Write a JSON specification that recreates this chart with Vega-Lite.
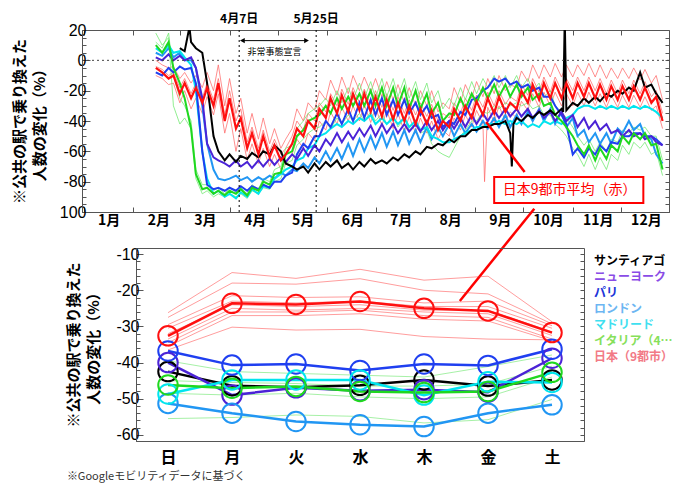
{
"$schema":"https://vega.github.io/schema/vega-lite/v6.json",
"padding":{"left":12,"top":12,"right":0,"bottom":0},
"background":"white",
"config":{"view":{"stroke":"#555","strokeWidth":1},"axis":{"domainColor":"#555","tickColor":"#555","grid":false},"font":"Noto Sans CJK JP"},
"datasets":{
"ann":[{"d":"2020-04-07","label":"4月7日"},{"d":"2020-05-25","label":"5月25日"}],
"ts":[
{"d":"2020-02-15","ny":2,"pa":-8,"lo":5,"ma":8,"it":10,"it2":18,"it3":12,"jp":-5,"jp2":0,"jp3":-4,"jp4":-10},
{"d":"2020-02-19","ny":0,"pa":-10,"lo":3,"ma":5,"it":5,"it2":10,"it3":8,"jp":-8,"jp2":-3,"jp3":-6,"jp4":-12},
{"d":"2020-02-23","ny":4,"pa":-5,"lo":8,"ma":10,"it":12,"it2":15,"it3":18,"jp":-12,"jp2":-5,"jp3":-10,"jp4":-16},
{"d":"2020-02-26","ny":0,"pa":-8,"lo":2,"ma":5,"it":-5,"it2":-30,"it3":-10,"jp":-10,"jp2":-4,"jp3":-8,"jp4":-15},
{"d":"2020-03-01","sa":8,"ny":3,"pa":-4,"lo":5,"ma":6,"it":-15,"it2":-42,"it3":-25,"jp":-22,"jp2":-12,"jp3":-18,"jp4":-28},
{"d":"2020-03-04","sa":6,"ny":0,"pa":-6,"lo":0,"ma":2,"it":-25,"it2":-38,"it3":-30,"jp":-15,"jp2":-8,"jp3":-12,"jp4":-20},
{"d":"2020-03-07","sa":22},
{"d":"2020-03-08","sa":12,"ny":2,"pa":-5,"lo":0,"ma":-3,"it":-45,"it2":-45,"it3":-40,"jp":-25,"jp2":-15,"jp3":-22,"jp4":-32},
{"d":"2020-03-11","sa":8,"ny":-5,"pa":-15,"lo":-5,"ma":-20,"it":-75,"it2":-78,"it3":-72,"jp":-18,"jp2":-10,"jp3":-15,"jp4":-25},
{"d":"2020-03-15","sa":5,"ny":-25,"pa":-60,"lo":-30,"ma":-60,"it":-85,"it2":-88,"it3":-82,"jp":-28,"jp2":-18,"jp3":-25,"jp4":-35},
{"d":"2020-03-18","sa":-15,"ny":-55,"pa":-82,"lo":-55,"ma":-78,"it":-84,"it2":-86,"it3":-82,"jp":-18,"jp2":-8,"jp3":-15,"jp4":-24},
{"d":"2020-03-22","sa":-50,"ny":-64,"pa":-85,"lo":-72,"ma":-88,"it":-88,"it2":-90,"it3":-86,"jp":-30,"jp2":-20,"jp3":-26,"jp4":-36},
{"d":"2020-03-25","sa":-60,"ny":-66,"pa":-84,"lo":-78,"ma":-86,"it":-86,"it2":-88,"it3":-84,"jp":-15,"jp2":-3,"jp3":-12,"jp4":-22},
{"d":"2020-03-29","sa":-66,"ny":-68,"pa":-86,"lo":-79,"ma":-90,"it":-89,"it2":-90,"it3":-88,"jp":-40,"jp2":-30,"jp3":-36,"jp4":-48},
{"d":"2020-04-01","sa":-62,"ny":-70,"pa":-84,"lo":-78,"ma":-88,"it":-86,"it2":-88,"it3":-84,"jp":-25,"jp2":-12,"jp3":-20,"jp4":-35},
{"d":"2020-04-05","sa":-67,"ny":-66,"pa":-86,"lo":-76,"ma":-91,"it":-88,"it2":-90,"it3":-87,"jp":-45,"jp2":-35,"jp3":-40,"jp4":-60},
{"d":"2020-04-08","sa":-63,"ny":-70,"pa":-83,"lo":-79,"ma":-87,"it":-85,"it2":-88,"it3":-84,"jp":-38,"jp2":-25,"jp3":-32,"jp4":-45},
{"d":"2020-04-12","sa":-65,"ny":-67,"pa":-86,"lo":-77,"ma":-90,"it":-89,"it2":-91,"it3":-88,"jp":-58,"jp2":-48,"jp3":-54,"jp4":-66},
{"d":"2020-04-15","sa":-61,"ny":-71,"pa":-83,"lo":-80,"ma":-85,"it":-84,"it2":-86,"it3":-82,"jp":-48,"jp2":-35,"jp3":-44,"jp4":-55},
{"d":"2020-04-19","sa":-64,"ny":-66,"pa":-85,"lo":-77,"ma":-88,"it":-86,"it2":-88,"it3":-85,"jp":-62,"jp2":-52,"jp3":-58,"jp4":-68},
{"d":"2020-04-22","sa":-60,"ny":-70,"pa":-82,"lo":-79,"ma":-83,"it":-80,"it2":-84,"it3":-78,"jp":-50,"jp2":-38,"jp3":-46,"jp4":-58},
{"d":"2020-04-26","sa":-62,"ny":-65,"pa":-84,"lo":-76,"ma":-84,"it":-82,"it2":-85,"it3":-80,"jp":-64,"jp2":-55,"jp3":-60,"jp4":-70},
{"d":"2020-04-29","sa":-56,"ny":-69,"pa":-80,"lo":-78,"ma":-78,"it":-75,"it2":-80,"it3":-72,"jp":-56,"jp2":-45,"jp3":-52,"jp4":-62},
{"d":"2020-05-03","sa":-60,"ny":-64,"pa":-80,"lo":-74,"ma":-75,"it":-74,"it2":-78,"it3":-70,"jp":-66,"jp2":-58,"jp3":-62,"jp4":-72},
{"d":"2020-05-06","sa":-68,"ny":-67,"pa":-76,"lo":-76,"ma":-72,"it":-62,"it2":-68,"it3":-58,"jp":-62,"jp2":-52,"jp3":-58,"jp4":-68},
{"d":"2020-05-10","sa":-70,"ny":-62,"pa":-74,"lo":-72,"ma":-70,"it":-60,"it2":-66,"it3":-56,"jp":-55,"jp2":-45,"jp3":-50,"jp4":-62},
{"d":"2020-05-13","sa":-72,"ny":-65,"pa":-62,"lo":-73,"ma":-66,"it":-50,"it2":-56,"it3":-45,"jp":-45,"jp2":-32,"jp3":-40,"jp4":-52},
{"d":"2020-05-17","sa":-70,"ny":-58,"pa":-55,"lo":-68,"ma":-64,"it":-46,"it2":-52,"it3":-40,"jp":-50,"jp2":-40,"jp3":-46,"jp4":-58},
{"d":"2020-05-20","sa":-74,"ny":-63,"pa":-58,"lo":-71,"ma":-58,"it":-40,"it2":-48,"it3":-35,"jp":-40,"jp2":-28,"jp3":-35,"jp4":-48},
{"d":"2020-05-24","sa":-68,"ny":-56,"pa":-50,"lo":-64,"ma":-56,"it":-38,"it2":-45,"it3":-32,"jp":-45,"jp2":-33,"jp3":-40,"jp4":-53},
{"d":"2020-05-27","sa":-72,"ny":-60,"pa":-50,"lo":-68,"ma":-50,"it":-36,"it2":-44,"it3":-30,"jp":-32,"jp2":-20,"jp3":-28,"jp4":-40},
{"d":"2020-05-31","sa":-67,"ny":-52,"pa":-40,"lo":-60,"ma":-48,"it":-30,"it2":-40,"it3":-25,"jp":-38,"jp2":-26,"jp3":-34,"jp4":-46},
{"d":"2020-06-03","sa":-70,"ny":-56,"pa":-44,"lo":-66,"ma":-45,"it":-35,"it2":-45,"it3":-30,"jp":-25,"jp2":-13,"jp3":-22,"jp4":-34},
{"d":"2020-06-07","sa":-66,"ny":-48,"pa":-35,"lo":-58,"ma":-42,"it":-25,"it2":-38,"it3":-20,"jp":-35,"jp2":-23,"jp3":-30,"jp4":-42},
{"d":"2020-06-10","sa":-71,"ny":-54,"pa":-42,"lo":-65,"ma":-44,"it":-32,"it2":-42,"it3":-28,"jp":-23,"jp2":-11,"jp3":-19,"jp4":-31},
{"d":"2020-06-14","sa":-68,"ny":-47,"pa":-32,"lo":-55,"ma":-40,"it":-24,"it2":-36,"it3":-18,"jp":-34,"jp2":-22,"jp3":-29,"jp4":-40},
{"d":"2020-06-17","sa":-72,"ny":-52,"pa":-40,"lo":-63,"ma":-42,"it":-30,"it2":-40,"it3":-26,"jp":-22,"jp2":-10,"jp3":-18,"jp4":-30},
{"d":"2020-06-21","sa":-67,"ny":-45,"pa":-28,"lo":-52,"ma":-38,"it":-22,"it2":-35,"it3":-15,"jp":-33,"jp2":-20,"jp3":-28,"jp4":-40},
{"d":"2020-06-24","sa":-70,"ny":-50,"pa":-38,"lo":-60,"ma":-40,"it":-30,"it2":-40,"it3":-25,"jp":-22,"jp2":-11,"jp3":-19,"jp4":-29},
{"d":"2020-06-28","sa":-65,"ny":-43,"pa":-26,"lo":-50,"ma":-36,"it":-20,"it2":-34,"it3":-14,"jp":-34,"jp2":-21,"jp3":-29,"jp4":-41},
{"d":"2020-07-01","sa":-68,"ny":-50,"pa":-36,"lo":-58,"ma":-42,"it":-30,"it2":-40,"it3":-25,"jp":-24,"jp2":-12,"jp3":-20,"jp4":-31},
{"d":"2020-07-05","sa":-66,"ny":-42,"pa":-25,"lo":-48,"ma":-38,"it":-18,"it2":-35,"it3":-12,"jp":-37,"jp2":-24,"jp3":-31,"jp4":-43},
{"d":"2020-07-08","sa":-68,"ny":-48,"pa":-36,"lo":-57,"ma":-42,"it":-30,"it2":-42,"it3":-24,"jp":-26,"jp2":-14,"jp3":-22,"jp4":-33},
{"d":"2020-07-12","sa":-64,"ny":-42,"pa":-26,"lo":-47,"ma":-38,"it":-18,"it2":-36,"it3":-12,"jp":-39,"jp2":-26,"jp3":-33,"jp4":-45},
{"d":"2020-07-15","sa":-66,"ny":-48,"pa":-36,"lo":-56,"ma":-42,"it":-30,"it2":-44,"it3":-24,"jp":-28,"jp2":-16,"jp3":-24,"jp4":-35},
{"d":"2020-07-19","sa":-62,"ny":-42,"pa":-26,"lo":-46,"ma":-38,"it":-18,"it2":-38,"it3":-12,"jp":-40,"jp2":-28,"jp3":-35,"jp4":-47},
{"d":"2020-07-22","sa":-64,"ny":-47,"pa":-35,"lo":-55,"ma":-44,"it":-32,"it2":-46,"it3":-25,"jp":-30,"jp2":-18,"jp3":-26,"jp4":-37},
{"d":"2020-07-26","sa":-60,"ny":-42,"pa":-28,"lo":-46,"ma":-40,"it":-20,"it2":-42,"it3":-14,"jp":-42,"jp2":-30,"jp3":-36,"jp4":-48},
{"d":"2020-07-29","sa":-62,"ny":-47,"pa":-36,"lo":-54,"ma":-46,"it":-32,"it2":-48,"it3":-26,"jp":-32,"jp2":-20,"jp3":-28,"jp4":-38},
{"d":"2020-08-02","sa":-57,"ny":-40,"pa":-30,"lo":-44,"ma":-44,"it":-22,"it2":-46,"it3":-15,"jp":-42,"jp2":-30,"jp3":-37,"jp4":-48},
{"d":"2020-08-05","sa":-58,"ny":-46,"pa":-38,"lo":-52,"ma":-50,"it":-35,"it2":-55,"it3":-28,"jp":-33,"jp2":-20,"jp3":-29,"jp4":-40},
{"d":"2020-08-09","sa":-55,"ny":-40,"pa":-36,"lo":-44,"ma":-52,"it":-28,"it2":-60,"it3":-20,"jp":-46,"jp2":-34,"jp3":-40,"jp4":-52},
{"d":"2020-08-12","sa":-56,"ny":-46,"pa":-44,"lo":-50,"ma":-54,"it":-40,"it2":-62,"it3":-32,"jp":-40,"jp2":-28,"jp3":-35,"jp4":-46},
{"d":"2020-08-16","sa":-52,"ny":-40,"pa":-40,"lo":-42,"ma":-54,"it":-35,"it2":-64,"it3":-25,"jp":-44,"jp2":-32,"jp3":-38,"jp4":-50},
{"d":"2020-08-19","sa":-54,"ny":-45,"pa":-42,"lo":-50,"ma":-52,"it":-36,"it2":-58,"it3":-30,"jp":-32,"jp2":-18,"jp3":-28,"jp4":-38},
{"d":"2020-08-23","sa":-50,"ny":-38,"pa":-34,"lo":-42,"ma":-50,"it":-25,"it2":-50,"it3":-18,"jp":-40,"jp2":-28,"jp3":-35,"jp4":-46},
{"d":"2020-08-26","sa":-50,"ny":-44,"pa":-36,"lo":-48,"ma":-48,"it":-32,"it2":-46,"it3":-26,"jp":-30,"jp2":-16,"jp3":-25,"jp4":-36},
{"d":"2020-08-30","sa":-46,"ny":-36,"pa":-26,"lo":-42,"ma":-46,"it":-22,"it2":-40,"it3":-14,"jp":-38,"jp2":-25,"jp3":-33,"jp4":-44},
{"d":"2020-09-02","sa":-46,"ny":-42,"pa":-25,"lo":-47,"ma":-44,"it":-28,"it2":-40,"it3":-22,"jp":-27,"jp2":-14,"jp3":-23,"jp4":-33},
{"d":"2020-09-06","sa":-44,"ny":-35,"pa":-20,"lo":-40,"ma":-44,"it":-18,"it2":-34,"it3":-12,"jp":-36,"jp2":-24,"jp3":-31,"jp4":-42},
{"d":"2020-09-07","jp4":-80},
{"d":"2020-09-09","sa":-44,"ny":-40,"pa":-18,"lo":-45,"ma":-42,"it":-25,"it2":-35,"it3":-18,"jp":-25,"jp2":-12,"jp3":-21,"jp4":-31},
{"d":"2020-09-13","sa":-42,"ny":-33,"pa":-12,"lo":-38,"ma":-42,"it":-16,"it2":-30,"it3":-10,"jp":-35,"jp2":-22,"jp3":-30,"jp4":-41},
{"d":"2020-09-16","sa":-42,"ny":-38,"pa":-14,"lo":-44,"ma":-40,"it":-24,"it2":-32,"it3":-18,"jp":-24,"jp2":-10,"jp3":-20,"jp4":-30},
{"d":"2020-09-20","sa":-40,"ny":-32,"pa":-12,"lo":-36,"ma":-42,"it":-16,"it2":-28,"it3":-10,"jp":-34,"jp2":-20,"jp3":-29,"jp4":-40},
{"d":"2020-09-23","sa":-48,"ny":-37,"pa":-16,"lo":-44,"ma":-40,"it":-24,"it2":-30,"it3":-18,"jp":-28,"jp2":-16,"jp3":-24,"jp4":-34},
{"d":"2020-09-24","sa":-70},
{"d":"2020-09-25","sa":-42},
{"d":"2020-09-27","sa":-38,"ny":-32,"pa":-14,"lo":-36,"ma":-42,"it":-16,"it2":-28,"it3":-10,"jp":-32,"jp2":-18,"jp3":-27,"jp4":-38},
{"d":"2020-09-30","sa":-40,"ny":-37,"pa":-18,"lo":-42,"ma":-40,"it":-24,"it2":-30,"it3":-18,"jp":-20,"jp2":-7,"jp3":-16,"jp4":-27},
{"d":"2020-10-04","sa":-36,"ny":-32,"pa":-16,"lo":-34,"ma":-44,"it":-18,"it2":-28,"it3":-12,"jp":-28,"jp2":-14,"jp3":-23,"jp4":-33},
{"d":"2020-10-07","sa":-38,"ny":-38,"pa":-20,"lo":-40,"ma":-42,"it":-26,"it2":-32,"it3":-20,"jp":-16,"jp2":-3,"jp3":-12,"jp4":-22},
{"d":"2020-10-11","sa":-34,"ny":-33,"pa":-18,"lo":-32,"ma":-44,"it":-22,"it2":-30,"it3":-15,"jp":-26,"jp2":-12,"jp3":-21,"jp4":-31},
{"d":"2020-10-14","sa":-36,"ny":-38,"pa":-24,"lo":-40,"ma":-40,"it":-30,"it2":-36,"it3":-24,"jp":-15,"jp2":-3,"jp3":-11,"jp4":-21},
{"d":"2020-10-18","sa":-33,"ny":-34,"pa":-24,"lo":-32,"ma":-42,"it":-28,"it2":-36,"it3":-20,"jp":-25,"jp2":-11,"jp3":-21,"jp4":-30},
{"d":"2020-10-21","sa":-36,"ny":-40,"pa":-30,"lo":-42,"ma":-40,"it":-36,"it2":-42,"it3":-30,"jp":-15,"jp2":-2,"jp3":-11,"jp4":-21},
{"d":"2020-10-25","sa":-32,"ny":-34,"pa":-36,"lo":-34,"ma":-42,"it":-40,"it2":-46,"it3":-34,"jp":-25,"jp2":-11,"jp3":-20,"jp4":-30},
{"d":"2020-10-26","sa":-34},
{"d":"2020-10-27","sa":28},
{"d":"2020-10-28","sa":-33,"ny":-40,"pa":-42,"lo":-44,"ma":-38,"it":-44,"it2":-50,"it3":-38,"jp":-15,"jp2":-3,"jp3":-12,"jp4":-22},
{"d":"2020-11-01","sa":-28,"ny":-36,"pa":-62,"lo":-38,"ma":-36,"it":-50,"it2":-58,"it3":-44,"jp":-25,"jp2":-11,"jp3":-20,"jp4":-30},
{"d":"2020-11-04","sa":-30,"ny":-44,"pa":-58,"lo":-50,"ma":-32,"it":-56,"it2":-62,"it3":-50,"jp":-15,"jp2":-3,"jp3":-11,"jp4":-21},
{"d":"2020-11-08","sa":-25,"ny":-38,"pa":-64,"lo":-46,"ma":-30,"it":-62,"it2":-70,"it3":-56,"jp":-24,"jp2":-10,"jp3":-20,"jp4":-30},
{"d":"2020-11-11","sa":-28,"ny":-45,"pa":-58,"lo":-54,"ma":-30,"it":-56,"it2":-62,"it3":-52,"jp":-15,"jp2":-2,"jp3":-11,"jp4":-21},
{"d":"2020-11-15","sa":-24,"ny":-40,"pa":-62,"lo":-48,"ma":-32,"it":-66,"it2":-72,"it3":-60,"jp":-25,"jp2":-11,"jp3":-20,"jp4":-30},
{"d":"2020-11-18","sa":-27,"ny":-46,"pa":-56,"lo":-55,"ma":-30,"it":-58,"it2":-64,"it3":-54,"jp":-16,"jp2":-3,"jp3":-12,"jp4":-22},
{"d":"2020-11-22","sa":-22,"ny":-42,"pa":-60,"lo":-48,"ma":-32,"it":-65,"it2":-72,"it3":-60,"jp":-26,"jp2":-12,"jp3":-22,"jp4":-31},
{"d":"2020-11-25","sa":-24,"ny":-48,"pa":-54,"lo":-55,"ma":-30,"it":-56,"it2":-62,"it3":-52,"jp":-17,"jp2":-5,"jp3":-13,"jp4":-23},
{"d":"2020-11-29","sa":-20,"ny":-46,"pa":-55,"lo":-45,"ma":-32,"it":-60,"it2":-66,"it3":-54,"jp":-26,"jp2":-12,"jp3":-22,"jp4":-31},
{"d":"2020-12-02","sa":-22,"ny":-50,"pa":-50,"lo":-48,"ma":-30,"it":-50,"it2":-56,"it3":-46,"jp":-17,"jp2":-5,"jp3":-13,"jp4":-23},
{"d":"2020-12-06","sa":-18,"ny":-46,"pa":-50,"lo":-40,"ma":-32,"it":-55,"it2":-62,"it3":-48,"jp":-26,"jp2":-12,"jp3":-22,"jp4":-31},
{"d":"2020-12-09","sa":-20,"ny":-50,"pa":-48,"lo":-46,"ma":-30,"it":-48,"it2":-54,"it3":-44,"jp":-17,"jp2":-5,"jp3":-13,"jp4":-23},
{"d":"2020-12-13","sa":-8,"ny":-48,"pa":-48,"lo":-42,"ma":-32,"it":-52,"it2":-58,"it3":-46,"jp":-26,"jp2":-13,"jp3":-22,"jp4":-31},
{"d":"2020-12-16","sa":-18,"ny":-52,"pa":-50,"lo":-50,"ma":-30,"it":-48,"it2":-54,"it3":-44,"jp":-18,"jp2":-6,"jp3":-14,"jp4":-24},
{"d":"2020-12-20","sa":-16,"ny":-50,"pa":-50,"lo":-52,"ma":-32,"it":-56,"it2":-62,"it3":-50,"jp":-28,"jp2":-15,"jp3":-24,"jp4":-33},
{"d":"2020-12-23","sa":-22,"ny":-54,"pa":-52,"lo":-62,"ma":-34,"it":-55,"it2":-60,"it3":-50,"jp":-24,"jp2":-10,"jp3":-20,"jp4":-30},
{"d":"2020-12-27","sa":-28,"ny":-56,"pa":-56,"lo":-68,"ma":-38,"it":-72,"it2":-76,"it3":-66,"jp":-40,"jp2":-26,"jp3":-35,"jp4":-45}
],
"dow":[
{"c":"サンティアゴ","day":"日","v":-42.5},{"c":"サンティアゴ","day":"月","v":-46.4},{"c":"サンティアゴ","day":"火","v":-46.8},{"c":"サンティアゴ","day":"水","v":-46.3},{"c":"サンティアゴ","day":"木","v":-44.8},{"c":"サンティアゴ","day":"金","v":-46.5},{"c":"サンティアゴ","day":"土","v":-44.8},
{"c":"ニューヨーク","day":"日","v":-40.0},{"c":"ニューヨーク","day":"月","v":-49.0},{"c":"ニューヨーク","day":"火","v":-47.0},{"c":"ニューヨーク","day":"水","v":-47.8},{"c":"ニューヨーク","day":"木","v":-47.5},{"c":"ニューヨーク","day":"金","v":-48.2},{"c":"ニューヨーク","day":"土","v":-38.8},
{"c":"パリ","day":"日","v":-36.8},{"c":"パリ","day":"月","v":-40.7},{"c":"パリ","day":"火","v":-40.4},{"c":"パリ","day":"水","v":-42.2},{"c":"パリ","day":"木","v":-40.4},{"c":"パリ","day":"金","v":-40.8},{"c":"パリ","day":"土","v":-36.3},
{"c":"ロンドン","day":"日","v":-51.3},{"c":"ロンドン","day":"月","v":-54.0},{"c":"ロンドン","day":"火","v":-56.3},{"c":"ロンドン","day":"水","v":-57.2},{"c":"ロンドン","day":"木","v":-57.7},{"c":"ロンドン","day":"金","v":-54.0},{"c":"ロンドン","day":"土","v":-51.7},
{"c":"マドリード","day":"日","v":-48.7},{"c":"マドリード","day":"月","v":-44.8},{"c":"マドリード","day":"火","v":-44.8},{"c":"マドリード","day":"水","v":-44.8},{"c":"マドリード","day":"木","v":-49.0},{"c":"マドリード","day":"金","v":-45.3},{"c":"マドリード","day":"土","v":-45.5},
{"c":"イタリア（4都市）","day":"日","v":-46.2},{"c":"イタリア（4都市）","day":"月","v":-47.1},{"c":"イタリア（4都市）","day":"火","v":-46.6},{"c":"イタリア（4都市）","day":"水","v":-48.0},{"c":"イタリア（4都市）","day":"木","v":-48.3},{"c":"イタリア（4都市）","day":"金","v":-48.0},{"c":"イタリア（4都市）","day":"土","v":-42.7},
{"c":"日本（9都市）","day":"日","v":-32.6},{"c":"日本（9都市）","day":"月","v":-23.6},{"c":"日本（9都市）","day":"火","v":-23.9},{"c":"日本（9都市）","day":"水","v":-23.1},{"c":"日本（9都市）","day":"木","v":-25.0},{"c":"日本（9都市）","day":"金","v":-25.7},{"c":"日本（9都市）","day":"土","v":-31.7}
],
"thin":[
{"s":"j1","g":"jp","日":-26.2,"月":-15.1,"火":-16.7,"水":-14.2,"木":-17.2,"金":-16.1,"土":-28.7},
{"s":"j2","g":"jp","日":-27.5,"月":-18.0,"火":-18.3,"水":-16.8,"木":-20.0,"金":-21.0,"土":-29.3},
{"s":"j3","g":"jp","日":-29.5,"月":-21.5,"火":-22.0,"水":-21.8,"木":-23.5,"金":-23.0,"土":-29.8},
{"s":"j4","g":"jp","日":-30.5,"月":-23.0,"火":-23.5,"水":-23.0,"木":-24.5,"金":-24.5,"土":-30.5},
{"s":"j5","g":"jp","日":-32.0,"月":-24.0,"火":-24.5,"水":-24.0,"木":-25.5,"金":-25.5,"土":-31.5},
{"s":"j6","g":"jp","日":-33.5,"月":-25.0,"火":-25.5,"水":-25.0,"木":-26.0,"金":-26.5,"土":-32.5},
{"s":"j7","g":"jp","日":-34.5,"月":-26.0,"火":-26.0,"水":-25.5,"木":-27.0,"金":-27.5,"土":-33.5},
{"s":"j8","g":"jp","日":-35.5,"月":-27.0,"火":-27.0,"水":-26.5,"木":-28.0,"金":-28.5,"土":-34.0},
{"s":"j9","g":"jp","日":-36.5,"月":-30.2,"火":-31.0,"水":-30.8,"木":-32.8,"金":-33.5,"土":-33.7},
{"s":"g1","g":"it","日":-39.5,"月":-42.5,"火":-43.0,"水":-43.5,"木":-44.0,"金":-41.1,"土":-37.9},
{"s":"g2","g":"it","日":-45.0,"月":-45.5,"火":-45.8,"水":-46.5,"木":-46.5,"金":-46.0,"土":-41.0},
{"s":"g3","g":"it","日":-48.5,"月":-49.0,"火":-48.5,"水":-49.5,"木":-50.0,"金":-49.5,"土":-44.0},
{"s":"g4","g":"it","日":-55.5,"月":-55.2,"火":-54.5,"水":-54.9,"木":-56.7,"金":-55.8,"土":-50.2}
]
},
"spacing":36,
"bounds":"flush",
"resolve":{"scale":{"x":"independent","y":"independent","color":"independent"}},
"vconcat":[
{
"width":587,"height":182,
"resolve":{"axis":{"x":"independent","y":"independent"}},
"layer":[
{"data":{"name":"ts"},"transform":[{"fold":["jp2","jp3","jp4","it2","it3"],"as":["s","v"]},{"filter":"isValid(datum.v)"}],
 "mark":{"type":"line","strokeWidth":0.9,"clip":true,"opacity":0.85},
 "encoding":{
  "x":{"field":"d","type":"temporal","scale":{"type":"utc","domain":[{"year":2019,"month":12,"date":31,"utc":true},{"year":2020,"month":12,"date":31,"utc":true}]},
   "axis":{"title":null,"format":"%-m月","tickCount":{"interval":"month","step":1},"labelOffset":25,"labelFontSize":14,"labelFontWeight":"bold","labelFont":"Noto Sans CJK JP","labelColor":"#000","labelPadding":6,"tickSize":-5,"labelOverlap":false,"labelFlush":false}},
  "y":{"field":"v","type":"quantitative","scale":{"domain":[-100,20],"nice":false,"zero":false},
   "axis":{"title":["※公共の駅で乗り換えた","人数の変化（%）"],"titleFontSize":15,"titleFontWeight":"bold","titleFont":"Noto Sans CJK JP","titleColor":"#000","titleLineHeight":20,"titlePadding":11.5,
    "values":[-100,-80,-60,-40,-20,0,20],
    "labelExpr":"datum.value === -100 ? '100' : '' + datum.value",
    "labelOverlap":false,"labelFlush":false,
    "labelFontSize":16,"labelFont":"Liberation Sans","labelColor":"#000","labelPadding":4,"tickSize":-8}},
  "color":{"field":"s","type":"nominal","legend":null,"scale":{"domain":["sa","ny","pa","lo","ma","it","it2","it3","jp","jp2","jp3","jp4"],"range":["#000000","#4b23d6","#1f3ff0","#2196f3","#00e5ee","#1fd81f","#6fe86f","#6fe86f","#ff1010","#ff6a6a","#ff6a6a","#ff6a6a"]}}
 }},
{"data":{"name":"ts"},"transform":[{"fold":["lo","ma","pa","ny","sa","it"],"as":["s","v"]},{"filter":"isValid(datum.v)"}],
 "mark":{"type":"line","strokeWidth":2,"clip":true},
 "encoding":{
  "x":{"field":"d","type":"temporal","axis":{"orient":"top","title":null,"tickCount":{"interval":"month","step":1},"labels":false,"tickSize":-5,"domain":false}},
  "y":{"field":"v","type":"quantitative","axis":{"orient":"left","title":null,"values":[-95,-90,-85,-75,-70,-65,-55,-50,-45,-35,-30,-25,-15,-10,-5,5,10,15],"labels":false,"tickSize":-4,"domain":false}},
  "color":{"field":"s","type":"nominal","legend":null}
 }},
{"data":{"name":"ts"},"transform":[{"fold":["jp"],"as":["s","v"]},{"filter":"isValid(datum.v)"}],
 "mark":{"type":"line","strokeWidth":2.2,"clip":true},
 "encoding":{
  "x":{"field":"d","type":"temporal","axis":null},
  "y":{"field":"v","type":"quantitative","axis":{"orient":"right","title":null,"values":[-100,-95,-90,-85,-80,-75,-70,-65,-60,-55,-50,-45,-40,-35,-30,-25,-20,-15,-10,-5,0,5,10,15,20],"labels":false,"tickSize":-4,"domain":false}},
  "color":{"field":"s","type":"nominal","legend":null}
 }},
{"data":{"values":[{}]},"mark":{"type":"rule","strokeDash":[2,3],"color":"#444","strokeWidth":1},"encoding":{"y":{"datum":0,"axis":null}}},
{"data":{"name":"ann"},"mark":{"type":"rule","strokeDash":[2,3],"color":"#000","strokeWidth":1},"encoding":{"x":{"field":"d","type":"temporal","axis":null}}},
{"data":{"name":"ann"},"mark":{"type":"text","fontSize":12,"fontWeight":"bold","font":"Noto Sans CJK JP","color":"#000","baseline":"middle"},"encoding":{"x":{"field":"d","type":"temporal","axis":null},"y":{"datum":27.5,"axis":null},"text":{"field":"label"}}},
{"data":{"values":[{}]},"mark":{"type":"rule","color":"#000","strokeWidth":1},"encoding":{"x":{"datum":{"year":2020,"month":4,"date":9,"utc":true},"type":"temporal","axis":null},"x2":{"datum":{"year":2020,"month":5,"date":19,"utc":true}},"y":{"datum":13,"axis":null}}},
{"data":{"values":[{}]},"mark":{"type":"point","shape":"triangle-left","filled":true,"size":30,"color":"#000","opacity":1},"encoding":{"x":{"datum":{"year":2020,"month":4,"date":9,"utc":true},"type":"temporal","axis":null},"y":{"datum":13,"axis":null}}},
{"data":{"values":[{}]},"mark":{"type":"point","shape":"triangle-right","filled":true,"size":30,"color":"#000","opacity":1},"encoding":{"x":{"datum":{"year":2020,"month":5,"date":19,"utc":true},"type":"temporal","axis":null},"y":{"datum":13,"axis":null}}},
{"data":{"values":[{"t":"非常事態宣言"}]},"mark":{"type":"text","fontSize":9,"font":"Noto Sans CJK JP","color":"#000","baseline":"middle"},"encoding":{"x":{"datum":{"year":2020,"month":4,"date":29,"utc":true},"type":"temporal","axis":null},"y":{"datum":5.5,"axis":null},"text":{"field":"t"}}},
{"data":{"values":[{}]},"mark":{"type":"rule","color":"#ff0000","strokeWidth":2.5},"encoding":{"x":{"datum":{"year":2020,"month":9,"date":8,"utc":true},"type":"temporal","axis":null},"y":{"datum":-40.7,"axis":null},"x2":{"datum":{"year":2020,"month":10,"date":2,"utc":true}},"y2":{"datum":-73.6}}},
{"data":{"values":[{}]},"mark":{"type":"rule","color":"#ff0000","strokeWidth":2.5},"encoding":{"x":{"datum":{"year":2020,"month":10,"date":8,"utc":true},"type":"temporal","axis":null},"y":{"datum":-97.8,"axis":null},"x2":{"datum":{"year":2020,"month":8,"date":22,"hours":14,"utc":true}},"y2":{"datum":-158.7}}},
{"data":{"values":[{}]},"mark":{"type":"rect","fill":"#ffffff","stroke":"#ff0000","strokeWidth":2},"encoding":{"x":{"datum":{"year":2020,"month":9,"date":13,"utc":true},"type":"temporal","axis":null},"x2":{"datum":{"year":2020,"month":12,"date":15,"utc":true}},"y":{"datum":-77,"axis":null},"y2":{"datum":-94}}},
{"data":{"values":[{"t":"日本9都市平均（赤）"}]},"mark":{"type":"text","fontSize":14,"font":"Noto Sans CJK JP","color":"#ff0000","baseline":"middle"},"encoding":{"x":{"datum":{"year":2020,"month":10,"date":30,"utc":true},"type":"temporal","axis":null},"y":{"datum":-85.5,"axis":null},"text":{"field":"t"}}}
]
},
{
"hconcat":[
{"width":54,"height":193,"data":{"values":[{}]},"mark":{"type":"point","opacity":0},"encoding":{},"view":{"stroke":null}},
{
"width":448,"height":193,
"title":{"text":"※Googleモビリティデータに基づく","orient":"bottom","anchor":"start","fontSize":11,"fontWeight":"normal","color":"#333","offset":6,"font":"Noto Sans CJK JP"},
"resolve":{"axis":{"x":"independent","y":"independent"}},
"layer":[
{"data":{"name":"thin"},"transform":[{"filter":"datum.g === 'jp'"},{"fold":["日","月","火","水","木","金","土"],"as":["day","v"]}],
 "mark":{"type":"line","color":"#ff3030","strokeWidth":0.8,"opacity":0.6},
 "encoding":{
  "x":{"field":"day","type":"nominal","scale":{"type":"point","domain":["日","月","火","水","木","金","土"],"padding":0.5},
   "axis":{"title":null,"labelFontSize":16,"labelFontWeight":"bold","labelFont":"Noto Sans CJK JP","labelColor":"#000","labelPadding":8,"ticks":false,"labelAngle":0}},
  "y":{"field":"v","type":"quantitative","scale":{"domain":[-61.7,-8.3],"nice":false,"zero":false},
   "axis":{"title":["※公共の駅で乗り換えた","人数の変化（%）"],"titleFontSize":15,"titleFontWeight":"bold","titleFont":"Noto Sans CJK JP","titleColor":"#000","titleLineHeight":20,"titlePadding":14,
    "values":[-60,-50,-40,-30,-20,-10],
    "labelExpr":"'' + datum.value",
    "labelOverlap":false,"labelFlush":false,
    "labelFontSize":16,"labelFont":"Liberation Sans","labelColor":"#000","labelPadding":4,"tickSize":-7}},
  "detail":{"field":"s"}
 }},
{"data":{"name":"thin"},"transform":[{"filter":"datum.g === 'it'"},{"fold":["日","月","火","水","木","金","土"],"as":["day","v"]}],
 "mark":{"type":"line","color":"#44e044","strokeWidth":0.8,"opacity":0.6},
 "encoding":{"x":{"field":"day","type":"nominal","axis":null},
  "y":{"field":"v","type":"quantitative","axis":{"orient":"left","title":null,"values":[-58,-56,-54,-52,-48,-46,-44,-42,-38,-36,-34,-32,-28,-26,-24,-22,-18,-16,-14,-12],"labels":false,"tickSize":-4,"domain":false}},
  "detail":{"field":"s"}}},
{"data":{"name":"dow"},"mark":{"type":"line","strokeWidth":2.5},
 "encoding":{"x":{"field":"day","type":"nominal","axis":null},
  "y":{"field":"v","type":"quantitative","axis":{"orient":"right","title":null,"values":[-60,-58,-56,-54,-52,-50,-48,-46,-44,-42,-40,-38,-36,-34,-32,-30,-28,-26,-24,-22,-20,-18,-16,-14,-12,-10],"labels":false,"tickSize":-4,"domain":false}},
  "color":{"field":"c","type":"nominal","scale":{"domain":["サンティアゴ","ニューヨーク","パリ","ロンドン","マドリード","イタリア（4都市）","日本（9都市）"],"range":["#000000","#4b23d6","#1f3ff0","#2196f3","#00e5ee","#1fd81f","#ff1010"]},
   "legend":{"title":null,"orient":"none","legendX":498,"legendY":5,"padding":2,"symbolSize":0,"symbolOpacity":0,"symbolStrokeWidth":0,"labelFontSize":12,"labelFontWeight":"bold","labelFont":"Noto Sans CJK JP","labelLimit":82,"labelOffset":0,"rowPadding":4,
    "encode":{"labels":{"update":{"fill":{"signal":"datum.value === 'ニューヨーク' ? '#8a4ce6' : datum.value === 'パリ' ? '#2034d8' : datum.value === 'ロンドン' ? '#6cb6f2' : datum.value === 'マドリード' ? '#3fe0f0' : datum.value === 'イタリア（4都市）' ? '#86e05a' : datum.value === '日本（9都市）' ? '#f27a86' : '#000000'"}}}}}}}},
{"data":{"name":"dow"},"mark":{"type":"point","filled":false,"size":380,"strokeWidth":2,"opacity":1},
 "encoding":{"x":{"field":"day","type":"nominal","axis":null},"y":{"field":"v","type":"quantitative","axis":null},
  "color":{"field":"c","type":"nominal",
   "legend":{"title":null,"orient":"none","legendX":498,"legendY":5,"padding":2,"symbolSize":0,"symbolOpacity":0,"symbolStrokeWidth":0,"labelFontSize":12,"labelFontWeight":"bold","labelFont":"Noto Sans CJK JP","labelLimit":82,"labelOffset":0,"rowPadding":4,
    "encode":{"labels":{"update":{"fill":{"signal":"datum.value === 'ニューヨーク' ? '#8a4ce6' : datum.value === 'パリ' ? '#2034d8' : datum.value === 'ロンドン' ? '#6cb6f2' : datum.value === 'マドリード' ? '#3fe0f0' : datum.value === 'イタリア（4都市）' ? '#86e05a' : datum.value === '日本（9都市）' ? '#f27a86' : '#000000'"}}}}}}}}
]
}
],
"spacing":0,
"bounds":"flush"
}
]
}
